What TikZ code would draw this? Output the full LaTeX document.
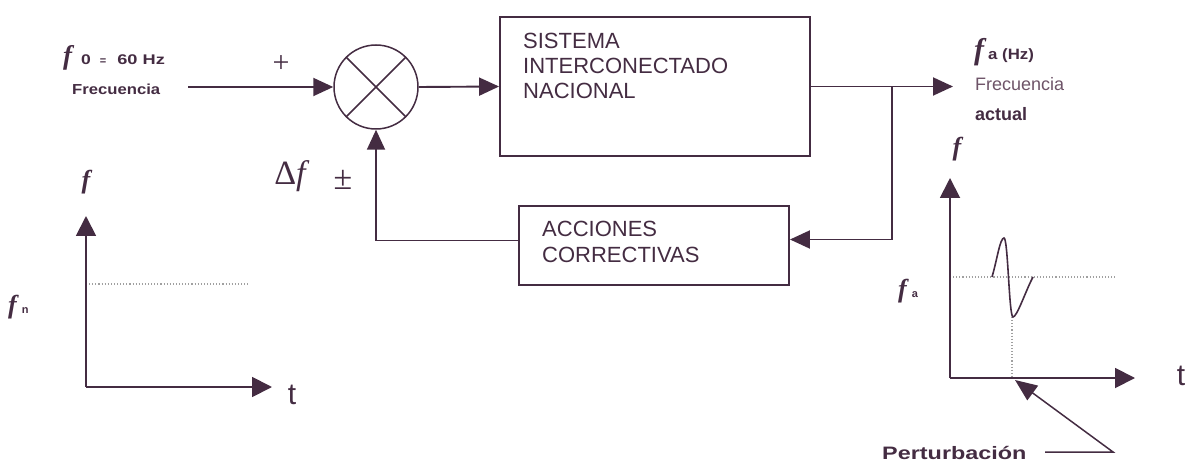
\documentclass[tikz,border=0pt]{standalone}
\usepackage{fontspec}
\setmainfont{Liberation Sans}
\newfontfamily\serifff{Liberation Serif}
\usepackage{graphicx}
\usetikzlibrary{arrows.meta}
\definecolor{ink}{RGB}{68,44,66}
\definecolor{inklight}{RGB}{110,84,104}
\definecolor{dotgrey}{RGB}{160,160,160}
\newcommand{\fsym}[1]{{\fontsize{#1}{#1}\serifff\bfseries\itshape f}}
\tikzset{
  conn/.style={draw=ink, line width=1.9pt},
  arr/.style={conn, -{Triangle[length=20pt,width=18pt]}},
  axisarr/.style={conn, -{Triangle[length=20pt,width=20pt]}},
  blockbox/.style={draw=ink, line width=1.9pt, inner sep=0pt},
  guide/.style={draw=dotgrey, line width=1.1pt, dotted},
  lbl/.style={text=ink, inner sep=0pt},
  boxtxt/.style={lbl, anchor=base west, font=\fontsize{22}{25}\selectfont},
}
\begin{document}
\begin{tikzpicture}[x=1pt,y=-1pt]
\useasboundingbox (0,0) rectangle (1188,462);

% ---------- main loop ----------
\node[circle, draw=ink, line width=1.5pt, minimum size=84pt, inner sep=0pt] (sum) at (376,87) {};
\draw[ink, line width=1.5pt] (sum.north west) -- (sum.south east) (sum.north east) -- (sum.south west);

\node[blockbox, minimum width=310pt, minimum height=139pt] (sin) at (655,86.5) {};
\node[boxtxt] (sin1) at (523,49) {SISTEMA};
\node[boxtxt] (sin2) at (523,74) {INTERCONECTADO};
\node[boxtxt] (sin3) at (523,99) {NACIONAL};

\node[blockbox, minimum width=270pt, minimum height=79pt] (acc) at (654,245.5) {};
\node[boxtxt] (acc1) at (542,237) {ACCIONES};
\node[boxtxt] (acc2) at (542,262) {CORRECTIVAS};

\coordinate (in) at (188,87);
\coordinate (out) at (953,86.5);
\coordinate (br) at (892,86.5);

\draw[arr] (in) -- (sum.west);
\draw[arr] (sum.east) -- (sin.west);
\draw[arr] (sin.east) -- (out);
\draw[arr] (br) |- ([yshift=6pt]acc.east);
\draw[arr] ([yshift=5pt]acc.west) -| (sum.south);

% ---------- loop labels ----------
\node[lbl, anchor=base west] (f0) at (63,65) {\fsym{27}\hspace{9pt}\fontsize{14}{16}\selectfont\bfseries\scalebox{1.25}[1]{0}\hspace{9pt}{\fontsize{11}{12}\selectfont =}\hspace{11pt}\scalebox{1.3}[1]{60 Hz}};
\node[lbl, anchor=base west] (frec) at (72,95) {\fontsize{14.5}{17}\selectfont\bfseries\scalebox{1.15}[1]{Frecuencia}};
\node[lbl] (plus) at (281,64) {\fontsize{30}{30}\serifff +};
\node[lbl] (df) at (290,176) {\fontsize{34}{34}\serifff Δ{\itshape f}};
\node[lbl] (pm) at (343,180) {\fontsize{34}{34}\serifff ±};

\node[lbl, anchor=base west] (fa) at (974,60) {\fsym{30}\hspace{4pt}\fontsize{15}{17}\selectfont\bfseries\scalebox{1.12}[1]{a (Hz)}};
\node[lbl, anchor=base west, text=inklight] (frec2) at (975,91) {\fontsize{18}{20}\selectfont Frecuencia};
\node[lbl, anchor=base west] (act) at (975,121) {\fontsize{18}{20}\selectfont\bfseries actual};

% ---------- left graph ----------
\coordinate (lo) at (86,387);
\coordinate (ly) at (86,216);
\coordinate (lx) at (272,387);
\draw[guide] (86,284) -- (248,284);
\draw[axisarr] (lo) -- (ly);
\draw[axisarr] (lo) -- (lx);
\node[lbl] (lf) at (86,182) {\fsym{26}};
\node[lbl] (lt) at (292,395) {\fontsize{30}{32}\selectfont t};
\node[lbl, anchor=base west] (lfn) at (8,313) {\fsym{26}\hspace{5pt}{\fontsize{11}{11}\selectfont\bfseries n}};

% ---------- right graph ----------
\coordinate (ro) at (950,378);
\coordinate (ry) at (950,178);
\coordinate (rx) at (1135,378);
\draw[guide] (950,277) -- (1115,277);
\draw[guide] (1012,317) -- (1012,378);
\draw[axisarr] (ro) -- (ry);
\draw[axisarr] (ro) -- (rx);
\draw[ink, line width=1.6pt] (992,277) .. controls (997,260) and (1000,238) .. (1004,238)
  .. controls (1008,238) and (1009,317) .. (1013,317)
  .. controls (1017,317) and (1026,290) .. (1033,277);
\node[lbl] (rf) at (957,149) {\fsym{26}};
\node[lbl, anchor=base west] (rfa) at (898,298) {\fsym{26}\hspace{5pt}{\fontsize{11}{11}\selectfont\bfseries a}};
\node[lbl] (rt) at (1181,376) {\fontsize{30}{32}\selectfont t};

\node[lbl, anchor=base west] (pert) at (882,459) {\fontsize{18}{20}\selectfont\bfseries\scalebox{1.3}[1]{Perturbación}};
\coordinate (pa) at (1045,452);
\coordinate (pb) at (1113,452);
\coordinate (ptip) at (1015,380);
\draw[ink, line width=1.5pt, -{Triangle[length=22pt,width=18pt]}] (pa) -- (pb) -- (ptip);
\end{tikzpicture}
\end{document}
